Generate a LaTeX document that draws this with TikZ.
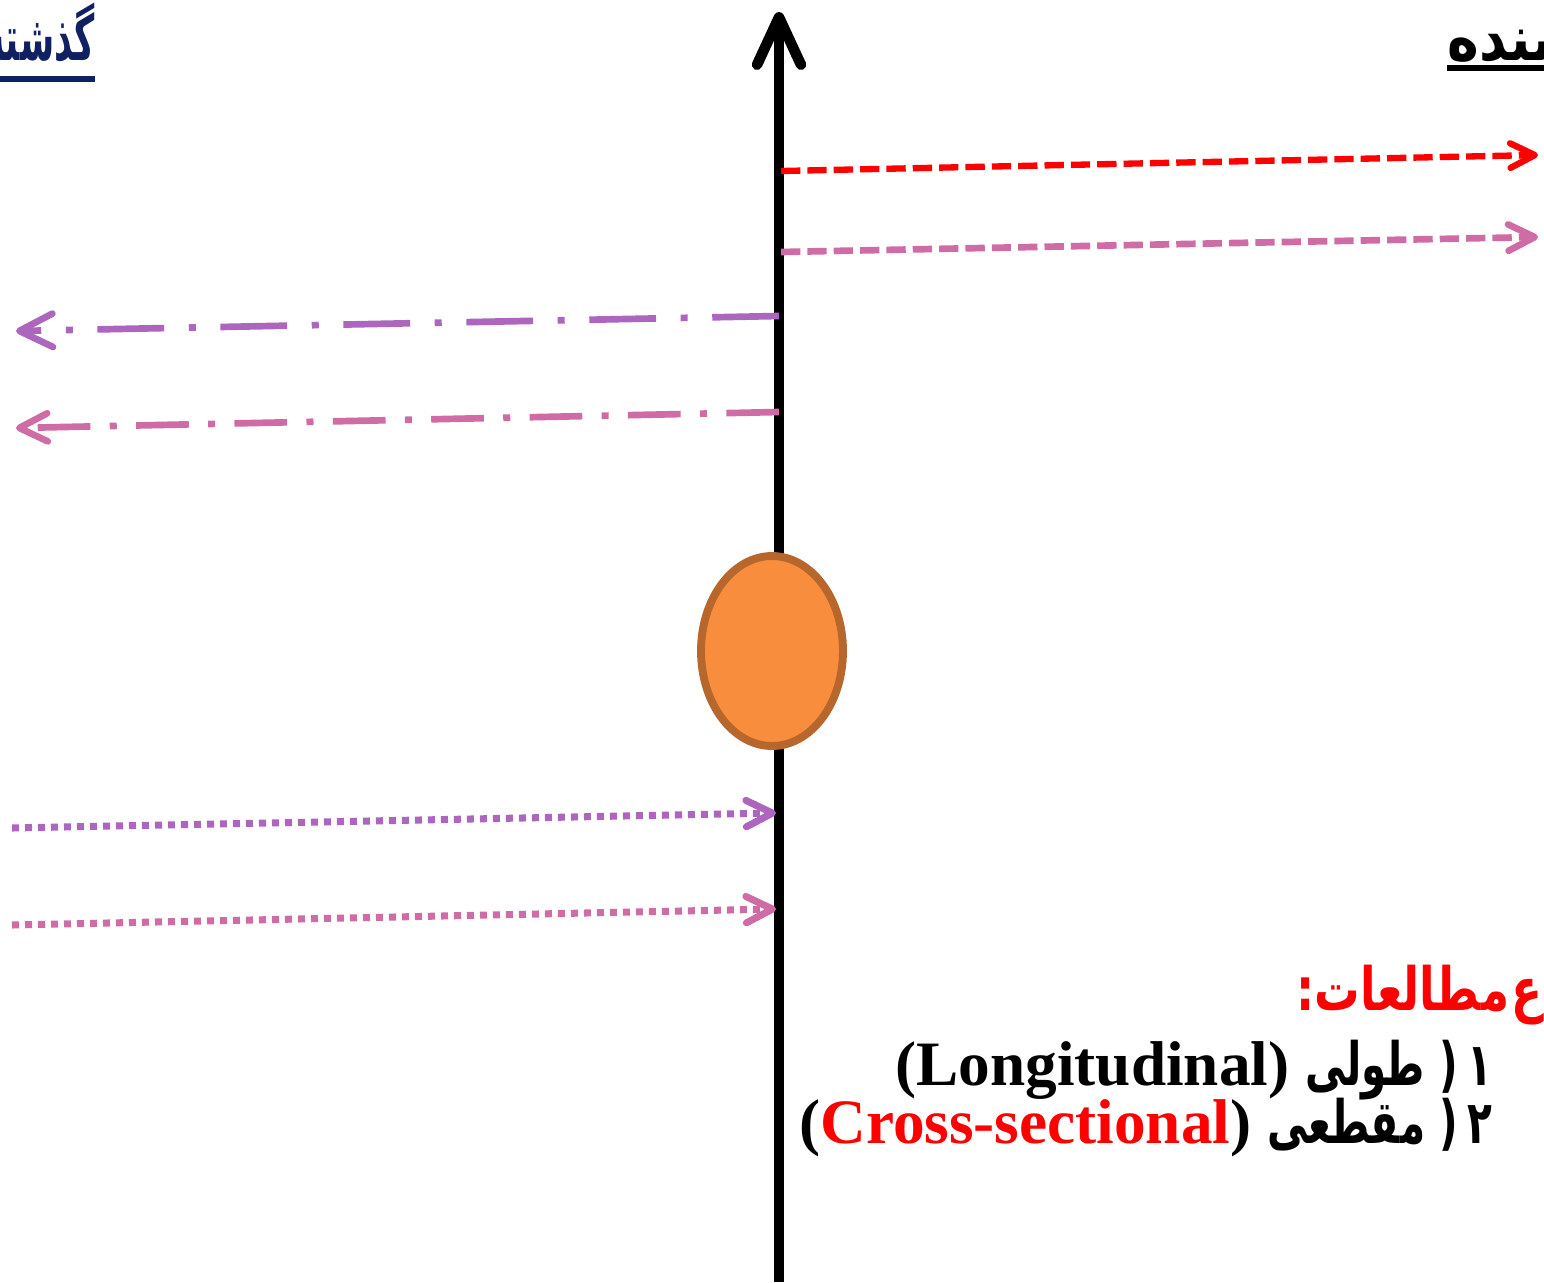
\documentclass[tikz,border=0pt]{standalone}
\usepackage{fontspec}
\setmainfont{Liberation Serif}
\newfontfamily\fafont[Script=Arabic,FakeStretch=0.68]{DejaVu Sans}
\newfontfamily\titlefont[Script=Arabic,FakeStretch=0.76]{DejaVu Sans}
\newfontfamily\headfont[Script=Arabic,FakeStretch=0.85]{DejaVu Sans}
\newfontfamily\pastfont[Script=Arabic,FakeStretch=0.55]{DejaVu Sans}
\TeXXeTstate=1
\usetikzlibrary{arrows.meta,shapes.geometric}
\definecolor{navy}{RGB}{16,32,96}
\definecolor{lilac}{RGB}{172,102,190}
\definecolor{rose}{RGB}{208,108,165}
\definecolor{eggfill}{RGB}{248,141,61}
\definecolor{eggedge}{RGB}{184,103,44}

\begin{document}
\begin{tikzpicture}[x=0.02cm,y=-0.02cm,line cap=butt,
  chev/.style={-{Straight Barb[length=#1,width=#1,round]}},
  big/.style={inner sep=0,font=\bfseries\fontsize{36}{40}\selectfont}]
\useasboundingbox (0,0) rectangle (1544,1282);
\clip (0,0) rectangle (1544,1282);
% time axis
\coordinate (bot) at (779,1282);
\coordinate (top) at (779,12);
\draw[line width=6pt,-{Straight Barb[length=27pt,width=25pt,round]}] (bot) -- (top);
\node (now) [ellipse,draw=eggedge,fill=eggfill,line width=4.5pt,inner sep=0,
  minimum width=2.84cm,minimum height=3.8cm] at (772,651) {};
% forward arrows
\coordinate (f1) at (781,171); \coordinate (f1e) at (1538,155);
\coordinate (f2) at (781,252); \coordinate (f2e) at (1538,237);
\draw[red,line width=3.6pt,dash pattern=on 11pt off 4pt,chev=14pt] (f1) -- (f1e);
\draw[rose,line width=3.8pt,dash pattern=on 11pt off 4pt,chev=15pt] (f2) -- (f2e);
% backward arrows
\coordinate (b1) at (779,316); \coordinate (b1e) at (16,331);
\coordinate (b2) at (779,412); \coordinate (b2e) at (16,428);
\draw[lilac,line width=3.8pt,dash pattern=on 38pt off 14pt on 4pt off 14pt,chev=19pt] (b1) -- (b1e);
\draw[rose,line width=3.8pt,dash pattern=on 30pt off 11pt on 4pt off 11pt,chev=16pt] (b2) -- (b2e);
% arrows into the present
\coordinate (p1) at (12,828); \coordinate (p1e) at (776,813);
\coordinate (p2) at (12,925); \coordinate (p2e) at (776,909);
\draw[lilac,line width=4pt,dash pattern=on 4pt off 3.4pt,chev=15pt] (p1) -- (p1e);
\draw[rose,line width=4pt,dash pattern=on 4pt off 3.4pt,chev=15pt] (p2) -- (p2e);
% labels
\node (past) [big,anchor=base east,text=navy,font=\pastfont\bfseries\fontsize{36}{40}\selectfont] at (95,60) {\beginR گذشته\endR};
\draw[navy,line width=3.6pt] (past.west |- 0,79) -- (past.east |- 0,79);
\node (future) [big,anchor=base west,font=\headfont\bfseries\fontsize{36}{40}\selectfont] at (1447,60) {\beginR آینده\endR};
\draw[line width=3.2pt] (future.west |- 0,68) -- (future.east |- 0,68);
\node (kinds) [big,anchor=base west,text=red,font=\titlefont\bfseries\fontsize{34}{40}\selectfont] at (1296,1010) {\beginR انواع\hspace{-0.22em} مطالعات:\endR};
\node (long) [big,anchor=base east] at (1493,1085) {\beginR{\fafont\fontsize{34}{40}\selectfont ۱\,( طولی} \beginL(Longitudinal)\endL\endR};
\node (cross) [big,anchor=base east] at (1493,1143) {\beginR{\fafont\fontsize{34}{40}\selectfont ۲\,( مقطعی} \beginL(\textcolor{red}{Cross-sectional})\endL\endR};
\end{tikzpicture}
\end{document}
